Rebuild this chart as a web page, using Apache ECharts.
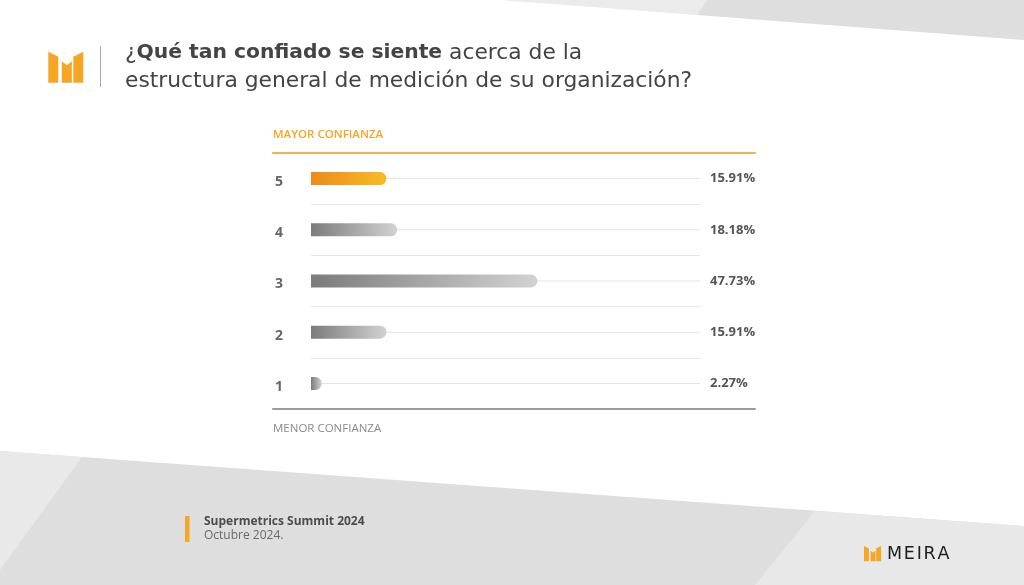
<!DOCTYPE html>
<html>
<head>
<meta charset="utf-8">
<script src="https://cdn.jsdelivr.net/npm/echarts@6/dist/echarts.min.js"></script>
<style>html,body{margin:0;padding:0;background:#fff}#c{width:1024px;height:585px}</style>
</head>
<body>
<div id="c"></div>
<script>
// ---- data ----
const categories = ['5', '4', '3', '2', '1'];
const values = [15.91, 18.18, 47.73, 15.91, 2.27];
const highlight = ['5'];
const trackMax = 82;
const titleLine1 = ['¿', 'Qué tan confiado se siente', ' acerca de la'];
const titleLine2 = 'estructura general de medición de su organización?';
const topLabel = 'MAYOR CONFIANZA';
const bottomLabel = 'MENOR CONFIANZA';
const footerTitle = 'Supermetrics Summit 2024';
const footerDate = 'Octubre 2024.';
const brand = 'MEIRA';

const FONT = '"Open Sans", sans-serif';
const TFONT = '"DejaVu Sans", sans-serif';
const ORANGE = '#f5a623';

function grad(c1, c2) {
  return new echarts.graphic.LinearGradient(0, 0, 1, 0, [
    { offset: 0, color: c1 }, { offset: 1, color: c2 }
  ]);
}

function logo(x, y, s) {
  const pts = [
    [[0,0],[10,5],[10,31],[0,31]],
    [[13.5,9.5],[18.5,13.5],[23.5,9.5],[23.5,31],[13.5,31]],
    [[25,5],[35,0],[35,31],[25,31]]
  ];
  return {
    type: 'group', x: x, y: y, scaleX: s, scaleY: s,
    children: pts.map(p => ({ type: 'polygon', shape: { points: p }, style: { fill: ORANGE } }))
  };
}

const chart = echarts.init(document.getElementById('c'), null, { renderer: 'canvas' });

const option = {
  backgroundColor: '#ffffff',
  animation: false,
  textStyle: { fontFamily: FONT },
  grid: [
    { left: 311, right: 324, top: 153, bottom: 176 },
    { left: 273, right: 269, top: 153, bottom: 176 }
  ],
  xAxis: [
    { gridIndex: 0, type: 'value', min: 0, max: trackMax, show: false },
    { gridIndex: 1, type: 'value', min: 0, max: 1, position: 'top',
      axisLine: { show: true, onZero: false, lineStyle: { color: '#f6b04e', width: 2 } },
      axisTick: { show: false }, axisLabel: { show: false }, splitLine: { show: false } },
    { gridIndex: 1, type: 'value', min: 0, max: 1, position: 'bottom',
      axisLine: { show: true, onZero: false, lineStyle: { color: '#9c9c9c', width: 2 } },
      axisTick: { show: false }, axisLabel: { show: false }, splitLine: { show: false } }
  ],
  yAxis: [
    { gridIndex: 0, type: 'category', data: categories, inverse: true,
      axisLine: { show: false }, axisTick: { show: false },
      axisLabel: { align: 'left', margin: 36, color: '#666666', fontWeight: 'bold', fontSize: 14,
                   fontFamily: FONT, verticalAlign: 'top', lineHeight: 7 },
      splitLine: { show: true, lineStyle: { color: '#e4e7ec', width: 1 } } },
    { gridIndex: 0, type: 'category', data: categories, inverse: true, show: false },
    { gridIndex: 1, type: 'value', min: 0, max: 1, show: false }
  ],
  series: [
    {
      type: 'bar', name: 'track', xAxisIndex: 0, yAxisIndex: 1,
      data: categories.map(() => trackMax), barWidth: 1, silent: true, z: 1,
      itemStyle: { color: '#e0e5ed' },
      label: {
        show: true, position: 'right', distance: 10,
        formatter: p => values[p.dataIndex].toFixed(2) + '%',
        color: '#555555', fontWeight: 'bold', fontSize: 13, fontFamily: FONT
      }
    },
    {
      type: 'bar', name: 'value', xAxisIndex: 0, yAxisIndex: 0, barWidth: 13, z: 3,
      data: values.map((v, i) => ({
        value: v,
        itemStyle: {
          color: highlight.includes(categories[i]) ? grad('#ef891d', '#f7bc22') : grad('#7b7b7b', '#d2d2d2'),
          borderRadius: [0, 6.5, 6.5, 0]
        }
      }))
    }
  ],
  graphic: [
    // background shapes
    { type: 'polygon', z: -10, shape: { points: [[500,0],[707,0],[697,15],[500,0]] }, style: { fill: '#ebebeb' } },
    { type: 'polygon', z: -10, shape: { points: [[707,0],[1024,0],[1024,40],[697,15]] }, style: { fill: '#dedede' } },
    { type: 'polygon', z: -10, shape: { points: [[0,451],[1024,526],[1024,585],[0,585]] }, style: { fill: '#dedede' } },
    { type: 'polygon', z: -9, shape: { points: [[0,451],[82,457],[0,570]] }, style: { fill: '#e9e9e9' } },
    { type: 'polygon', z: -9, shape: { points: [[815,511],[1024,526],[1024,585],[755,585]] }, style: { fill: '#e8e8e8' } },
    // header logo + divider
    logo(48.3, 51.7, 1),
    { type: 'line', shape: { x1: 100.5, y1: 46, x2: 100.5, y2: 87 }, style: { stroke: '#aaaaaa', lineWidth: 1 } },
    // title
    { type: 'text', x: 125, y: 53, style: {
        text: '{n|' + titleLine1[0] + '}{b|' + titleLine1[1] + '}{n|' + titleLine1[2] + '}',
        verticalAlign: 'middle', fontFamily: TFONT, fontSize: 21.8, fill: '#444444',
        rich: {
          n: { fontFamily: TFONT, fontSize: 21.8, fill: '#444444' },
          b: { fontFamily: TFONT, fontSize: 20.3, fontWeight: 'bold', fill: '#444444' }
        }
      } },
    { type: 'text', x: 125, y: 81, style: {
        text: titleLine2, verticalAlign: 'middle', fontFamily: TFONT, fontSize: 21.8, fill: '#444444'
      } },
    // axis end labels
    { type: 'text', x: 273, y: 135, style: { text: topLabel, verticalAlign: 'middle', fontFamily: FONT,
        fontSize: 11.5, fontWeight: 600, fill: ORANGE } },
    { type: 'text', x: 273, y: 429, style: { text: bottomLabel, verticalAlign: 'middle', fontFamily: FONT,
        fontSize: 11.5, fontWeight: 500, fill: '#8a8a8a' } },
    // footer
    { type: 'rect', shape: { x: 185, y: 516, width: 4.5, height: 26 }, style: { fill: ORANGE } },
    { type: 'text', x: 204, y: 522, style: { text: footerTitle, verticalAlign: 'middle', fontFamily: FONT,
        fontSize: 12, fontWeight: 'bold', fill: '#4d4d4d' } },
    { type: 'text', x: 204, y: 535.5, style: { text: footerDate, verticalAlign: 'middle', fontFamily: FONT,
        fontSize: 12, fill: '#6a6a6a' } },
    logo(864, 546, 0.49),
    { type: 'text', x: 887, y: 554.5, style: { text: brand.split('').join('\u200a'), verticalAlign: 'middle',
        fontFamily: TFONT, fontSize: 17.5, fontWeight: 500, fill: '#1e1e1e' } }
  ]
};
chart.setOption(option);
</script>
</body>
</html>
